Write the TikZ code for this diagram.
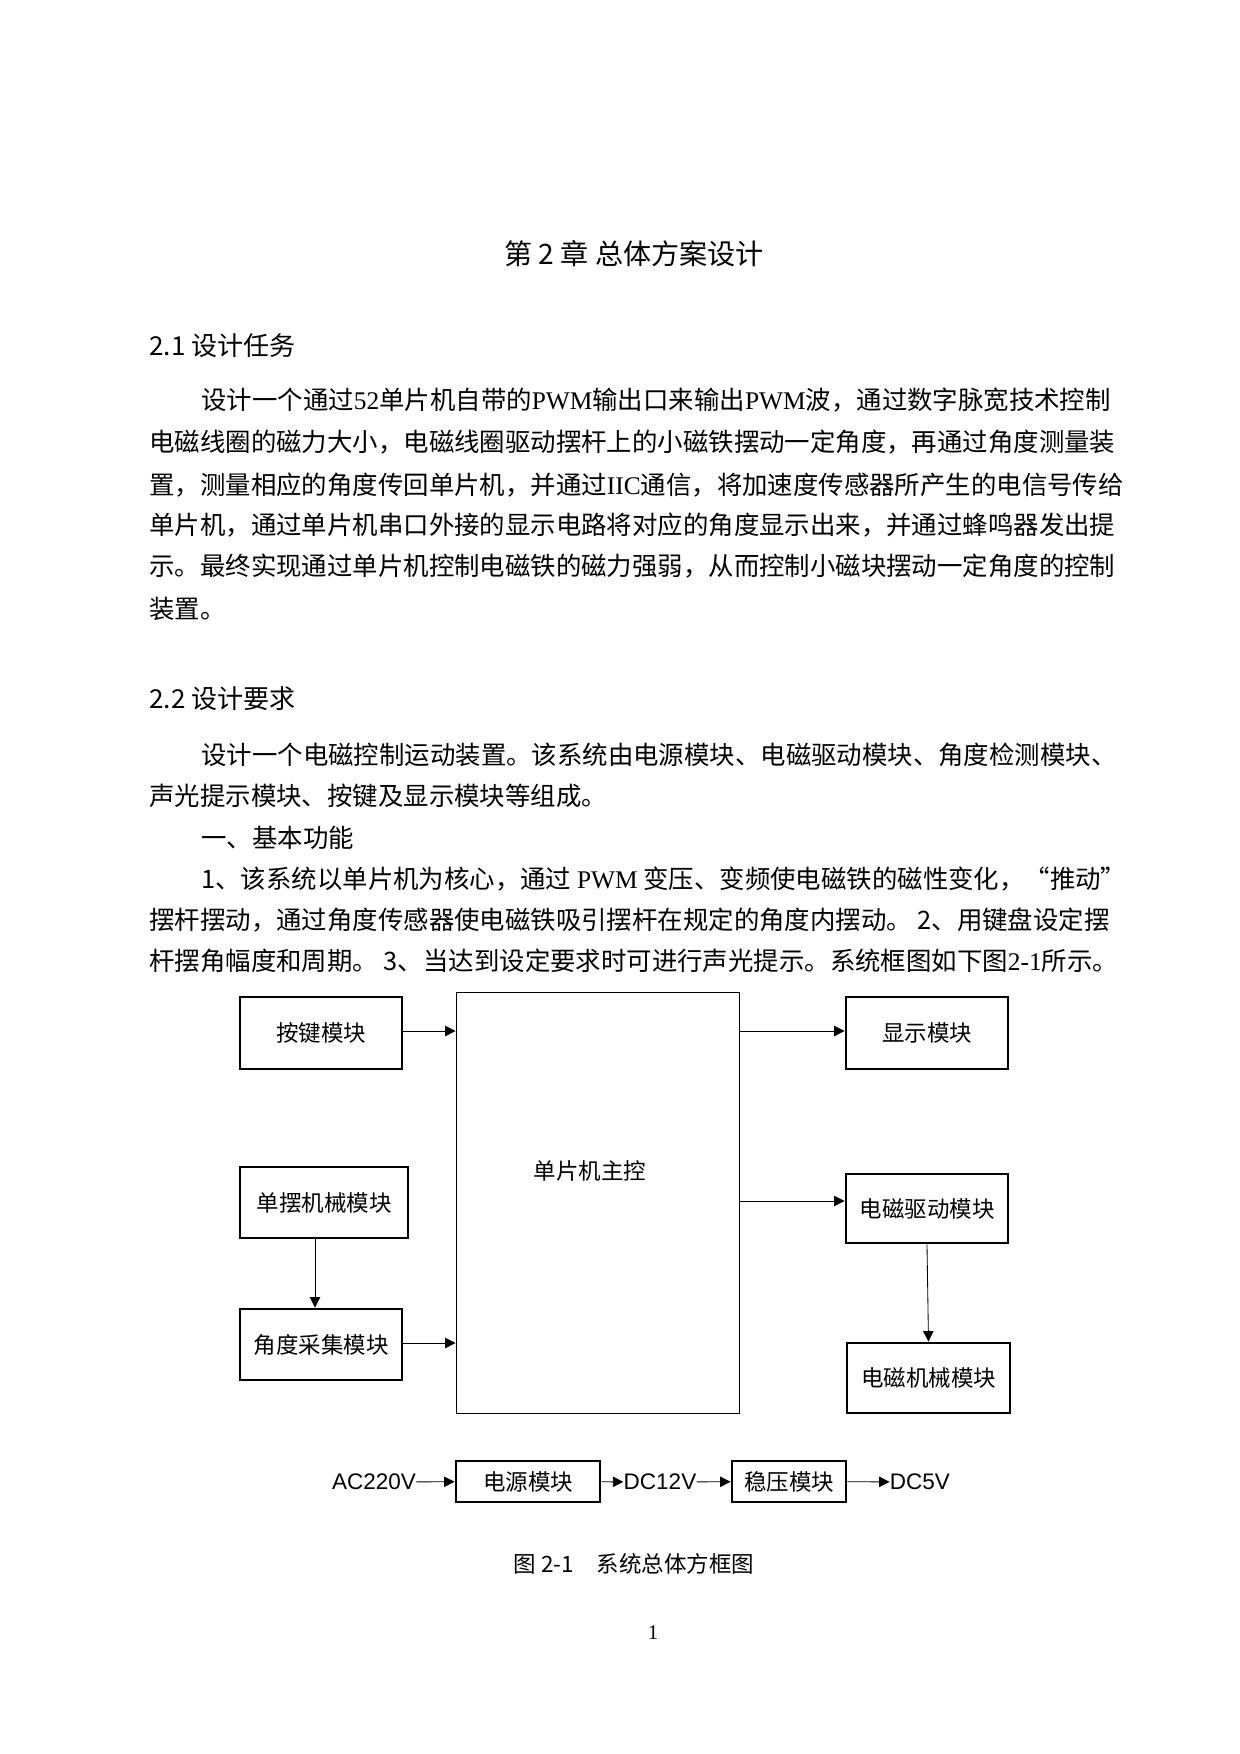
\documentclass[tikz,border=0pt]{standalone}
\usepackage{fontspec}
\setmainfont{Noto Sans CJK SC}
\newfontfamily\lat{Liberation Serif}
\newfontfamily\hei{Liberation Sans}
\usetikzlibrary{arrows.meta}
\tikzset{
  line/.style={anchor=west, inner sep=0pt, font=\fontsize{12.2}{14}\selectfont},
  head/.style={anchor=west, inner sep=0pt, font=\fontsize{12.5}{14}\selectfont},
  blk/.style={draw, line width=1.4pt, inner sep=0pt, font=\fontsize{10.8}{12}\selectfont},
  box/.style n args={2}{minimum width={#1*0.48pt}, minimum height={#2*0.48pt}},
  lbl/.style={inner sep=0pt, font=\fontsize{10.8}{12}\selectfont},
  arr/.style={-{Triangle[length=5pt,width=5pt]}, thin}
}
\begin{document}
\begin{tikzpicture}[x=0.48pt, y=-0.48pt]
        \useasboundingbox (0,0) rectangle (1240,1754);
        % heading and text
        \node [inner sep=0pt, font=\fontsize{13.5}{15}\selectfont] (title) at (634,254) {第 2 章\ 总体方案设计};
        \node [head] (h1) at (149,346) {2.1\ 设计任务};
        \node [line] (p1) at (201,400) {设计一个通过{\lat 52}单片机自带的{\lat PWM}输出口来输出{\lat PWM}波，通过数字脉宽技术控制};
        \node [line] (p2) at (149,442) {电磁线圈的磁力大小，电磁线圈驱动摆杆上的小磁铁摆动一定角度，再通过角度测量装};
        \node [line] (p3) at (149,485) {置，测量相应的角度传回单片机，并通过{\lat IIC}通信，将加速度传感器所产生的电信号传给};
        \node [line] (p4) at (149,525) {单片机，通过单片机串口外接的显示电路将对应的角度显示出来，并通过蜂鸣器发出提};
        \node [line] (p5) at (149,566) {示。最终实现通过单片机控制电磁铁的磁力强弱，从而控制小磁块摆动一定角度的控制};
        \node [line] (p6) at (149,609) {装置。};
        \node [head] (h2) at (149,699) {2.2\ 设计要求};
        \node [line] (q1) at (201,755) {设计一个电磁控制运动装置。该系统由电源模块、电磁驱动模块、角度检测模块、};
        \node [line] (q2) at (149,796) {声光提示模块、按键及显示模块等组成。};
        \node [line] (q3) at (201,838) {一、基本功能};
        \node [line] (q4) at (201,879) {1、该系统以单片机为核心，通过\ {\lat PWM}\ 变压、变频使电磁铁的磁性变化，“推动”};
        \node [line] (q5) at (149,920) {摆杆摆动，通过角度传感器使电磁铁吸引摆杆在规定的角度内摆动。\ 2、用键盘设定摆};
        \node [line] (q6) at (149,961) {杆摆角幅度和周期。\ 3、当达到设定要求时可进行声光提示。系统框图如下图{\lat 2-1}所示。};
        % blocks
        \node [blk, box={162}{72}] (key) at (321,1033) {按键模块};
        \node [draw, thin, box={283}{421}] (mcu) at (597.5,1202.5) {};
        \node [lbl] (mcutxt) at (590,1171) {单片机主控};
        \node [blk, box={162}{72}] (disp) at (927,1033) {显示模块};
        \node [blk, box={168}{71}] (pend) at (324,1202.5) {单摆机械模块};
        \node [blk, box={162}{71}] (angle) at (321,1344.5) {角度采集模块};
        \node [blk, box={162}{69}] (drv) at (927,1208.5) {电磁驱动模块};
        \node [blk, box={163}{70}] (mech) at (928.5,1378) {电磁机械模块};
        % connectors
        \draw [arr] (key.east |- 0,1031) -- (mcu.west |- 0,1031);
        \draw [arr] (mcu.east |- 0,1031) -- (disp.west |- 0,1031);
        \draw [arr] (mcu.east |- 0,1201) -- (drv.west |- 0,1201);
        \draw [arr] (angle.east |- 0,1343) -- (mcu.west |- 0,1343);
        \draw [arr] (pend.south -| 315,0) -- (angle.north -| 315,0);
        \draw [arr] (drv.south) -- (mech.north);
        % power row
        \node [lbl, font=\hei\fontsize{10.8}{12}\selectfont] (ac) at (374,1482) {AC220V};
        \node [blk, box={144}{41}] (psu) at (528,1481.5) {电源模块};
        \node [lbl, font=\hei\fontsize{10.8}{12}\selectfont] (dc12) at (660,1482) {DC12V};
        \node [blk, box={114}{41}] (reg) at (789,1481.5) {稳压模块};
        \node [lbl, font=\hei\fontsize{10.8}{12}\selectfont] (dc5) at (920,1482) {DC5V};
        \draw [arr] (ac) -- (psu);
        \draw [arr] (psu) -- (dc12);
        \draw [arr] (dc12) -- (reg);
        \draw [arr] (reg) -- (dc5);
        \node [lbl] (cap) at (634,1564) {图 2-1\quad 系统总体方框图};
        \node [inner sep=0pt, font=\lat\fontsize{10}{12}\selectfont] (page) at (653,1633) {1};
\end{tikzpicture}
\end{document}
